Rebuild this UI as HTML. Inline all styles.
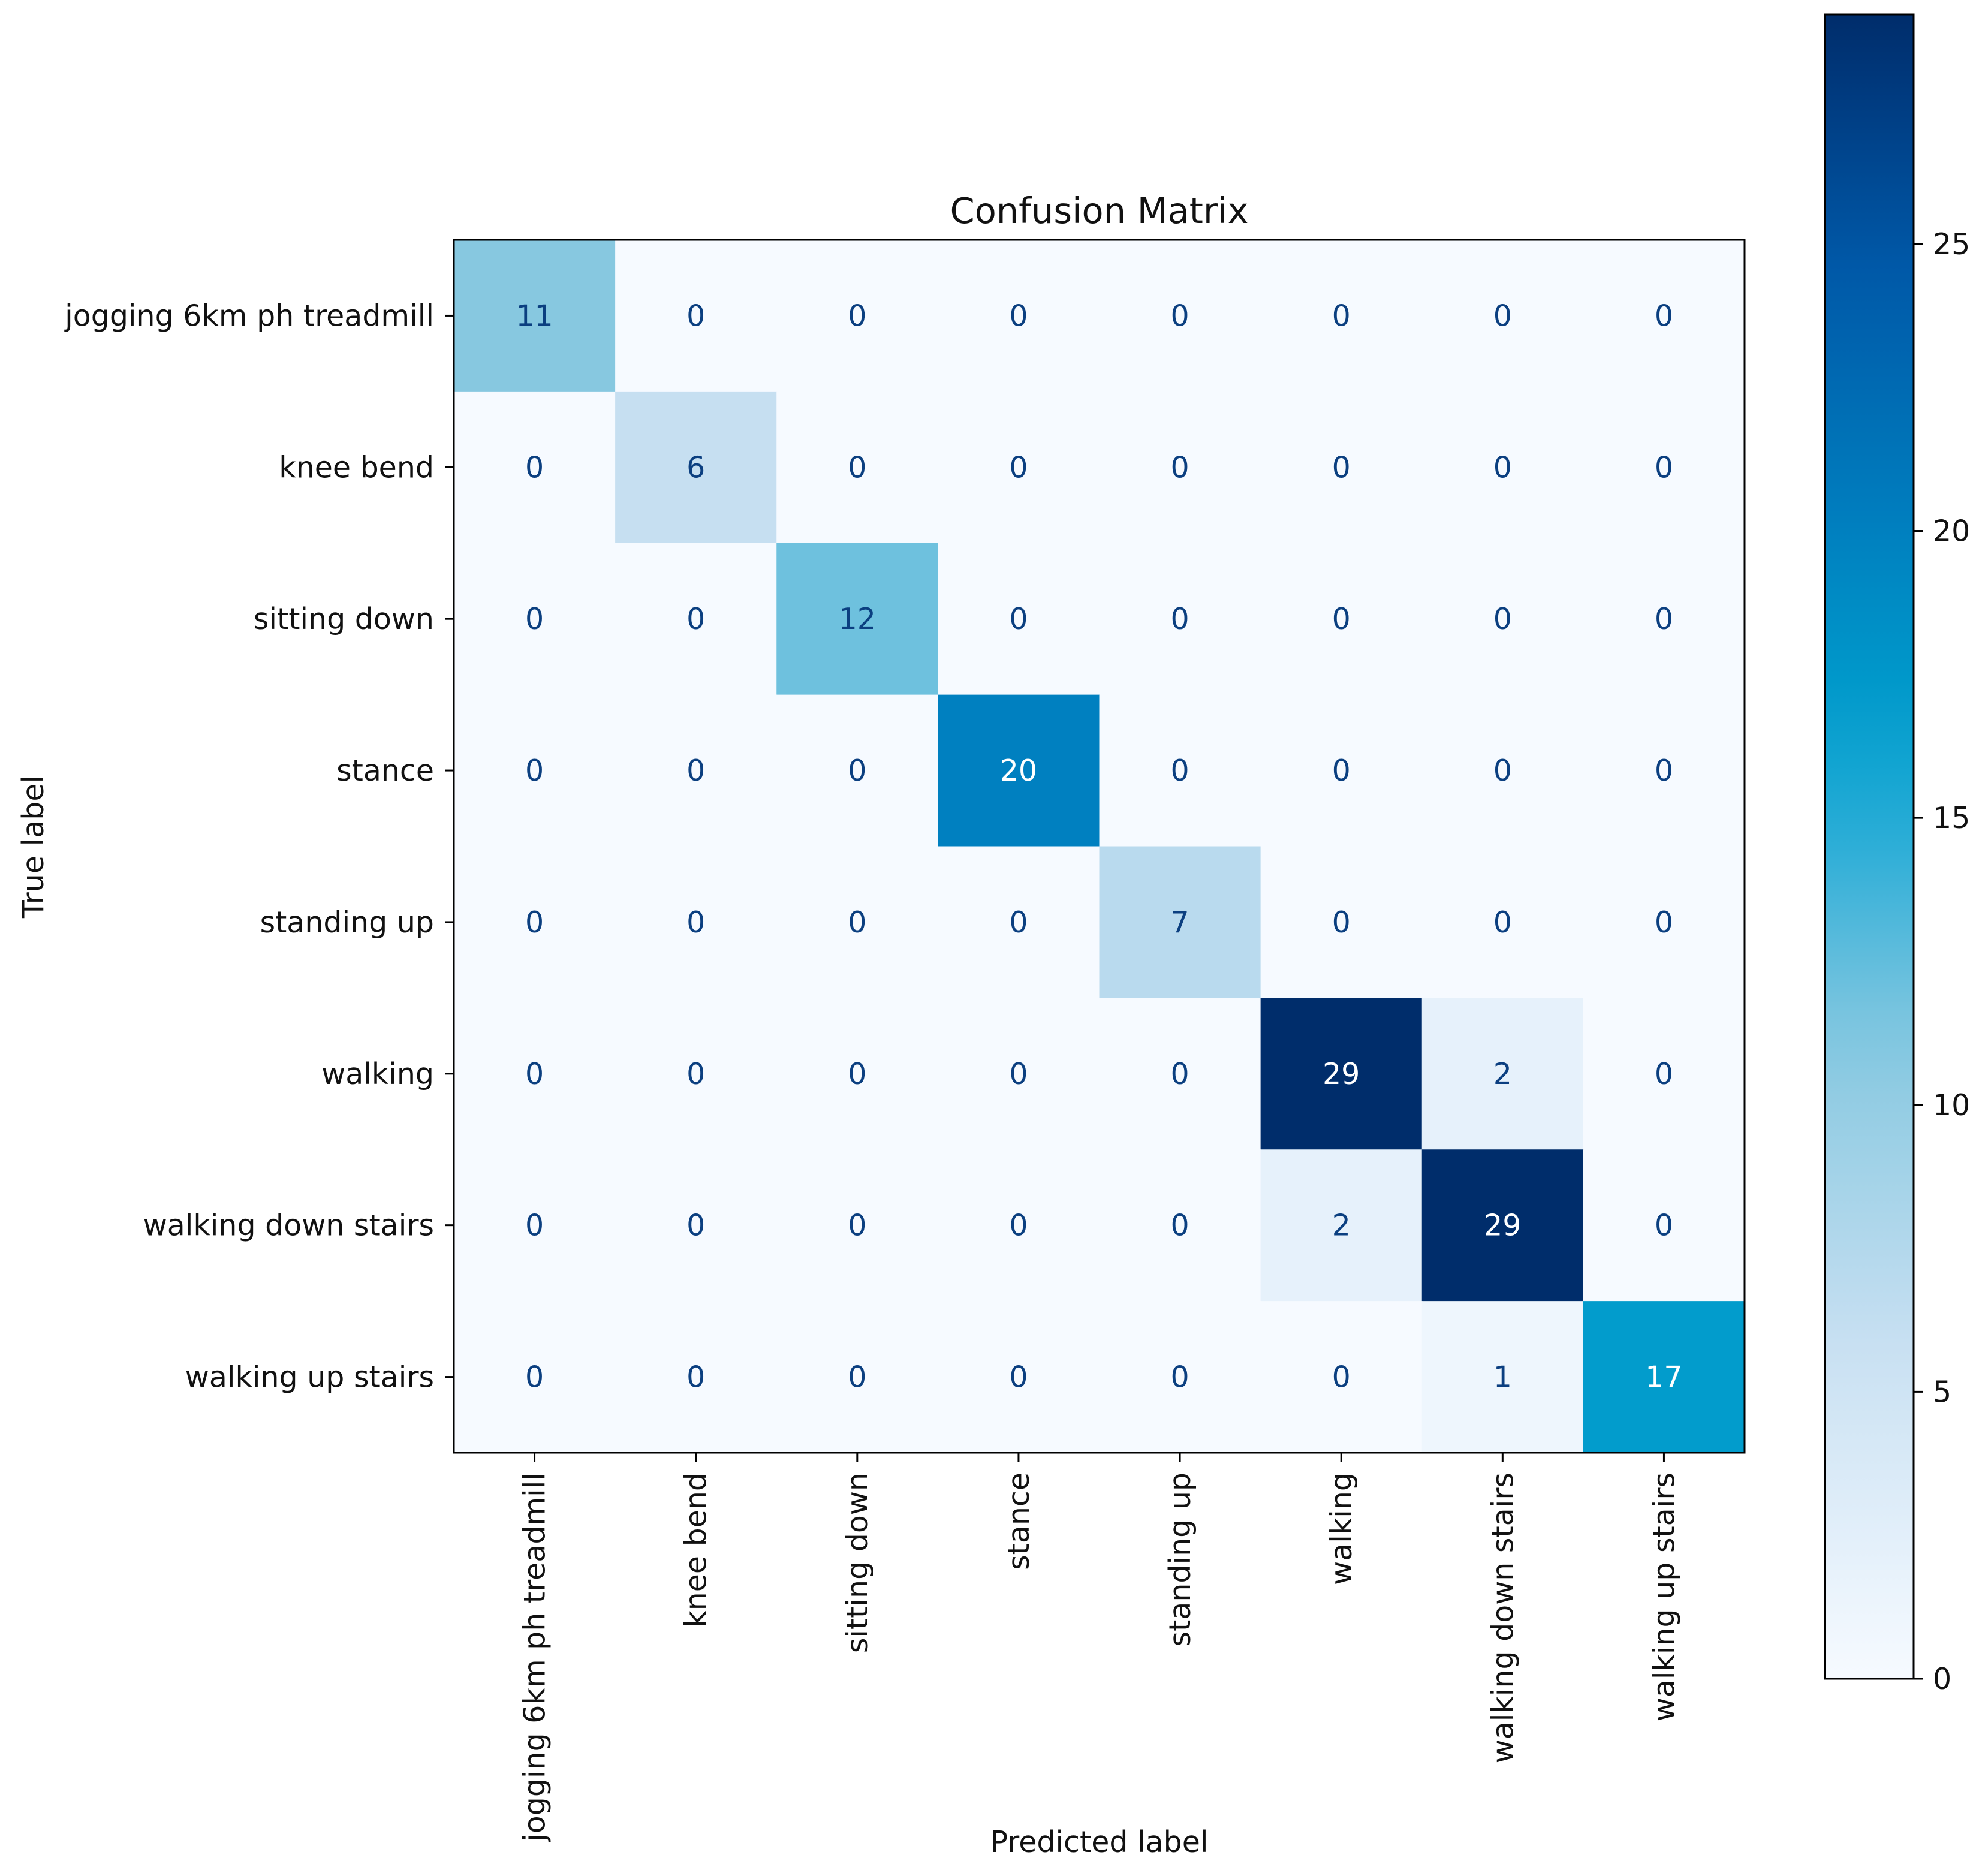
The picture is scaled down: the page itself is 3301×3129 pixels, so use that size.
<!DOCTYPE html>
<html><head><meta charset="utf-8"><style>
html,body{margin:0;padding:0;background:#fff;}
svg{display:block;font-family:"DejaVu Sans","Liberation Sans",sans-serif;}
</style></head><body>
<svg id="chart" width="3301" height="3129" viewBox="0 0 3301 3129" xmlns="http://www.w3.org/2000/svg">
<defs><linearGradient id="cbgrad" x1="0" y1="1" x2="0" y2="0"></linearGradient></defs>
<rect width="3301" height="3129" fill="#fff"/>
<g id="cells"></g>
<g id="axes"></g>
</svg>
<script>
const categories = ["jogging 6km ph treadmill","knee bend","sitting down","stance","standing up","walking","walking down stairs","walking up stairs"];
const row0 = [11,0,0,0,0,0,0,0];
const row1 = [0,6,0,0,0,0,0,0];
const row2 = [0,0,12,0,0,0,0,0];
const row3 = [0,0,0,20,0,0,0,0];
const row4 = [0,0,0,0,7,0,0,0];
const row5 = [0,0,0,0,0,29,2,0];
const row6 = [0,0,0,0,0,2,29,0];
const row7 = [0,0,0,0,0,0,1,17];
const matrix = [row0,row1,row2,row3,row4,row5,row6,row7];
const cbTicks = [0,5,10,15,20,25];
const vmin = 0, vmax = 29;

const NS = "http://www.w3.org/2000/svg";
const L=757, R=2910, T=400, B=2423;
const n = categories.length;
const cw=(R-L)/n, ch=(B-T)/n;
const CBL=3044, CBR=3192, CBT=24, CBB=2800;
const FS=49;
const stops=[[0,[246,250,255]],[0.2,[200,224,242]],[0.38,[135,200,224]],[0.52,[30,170,214]],[0.59,[0,155,203]],[0.69,[0,128,192]],[0.86,[0,85,165]],[1,[0,45,107]]];
function cmap(v){
  const t=Math.max(0,Math.min(1,(v-vmin)/(vmax-vmin)));
  for(let i=1;i<stops.length;i++){
    if(t<=stops[i][0]){
      const a=stops[i-1],b=stops[i],f=(t-a[0])/(b[0]-a[0]);
      return "rgb("+a[1].map((c,k)=>Math.round(c+(b[1][k]-c)*f)).join(",")+")";
    }
  }
  return "rgb(0,45,107)";
}
function xc(j){return L+cw*(j+0.5);}
function yc(i){return T+ch*(i+0.5);}
function cbY(v){return CBB-(v-vmin)/(vmax-vmin)*(CBB-CBT);}
function el(tag,attrs,parent,text){
  const e=document.createElementNS(NS,tag);
  for(const k in attrs) e.setAttribute(k,attrs[k]);
  if(text!==undefined) e.textContent=text;
  parent.appendChild(e); return e;
}
const cells=document.getElementById('cells');
const axes=document.getElementById('axes');
const thresh=(vmax+vmin)/2;
for(let i=0;i<n;i++){
  for(let j=0;j<n;j++){
    const v=matrix[i][j];
    const r=el('rect',{x:L+cw*j,y:T+ch*i,width:cw+0.6,height:ch+0.6,fill:cmap(v)},cells);
    
    
    const t=el('text',{x:xc(j),y:yc(i)+17,'text-anchor':'middle','font-size':FS,fill:v>thresh?'#fff':'#0b3f80'},cells,String(v));
    
    
  }
}
const fr=el('rect',{x:L,y:T,width:R-L,height:B-T,fill:'none',stroke:'#000','stroke-width':3},axes);


for(let i=0;i<n;i++){
  el('line',{x1:L-15,x2:L,y1:yc(i),y2:yc(i),stroke:'#000','stroke-width':3},axes);
  const t=el('text',{x:L-33,y:yc(i)+17,'text-anchor':'end','font-size':FS,fill:'#111'},axes,categories[i]);
  
  
}
for(let j=0;j<n;j++){
  el('line',{x1:xc(j),x2:xc(j),y1:B,y2:B+15,stroke:'#000','stroke-width':3},axes);
  const t=el('text',{x:0,y:0,'text-anchor':'end','font-size':FS,fill:'#111',transform:'translate('+(xc(j)+17)+','+(B+33)+') rotate(-90)'},axes,categories[j]);
  
  
}
const title=el('text',{x:(L+R)/2,y:372,'text-anchor':'middle','font-size':59,fill:'#111'},axes,'Confusion Matrix');


const xt=el('text',{x:(L+R)/2,y:3089,'text-anchor':'middle','font-size':FS,fill:'#111'},axes,'Predicted label');


const yt=el('text',{x:0,y:0,'text-anchor':'middle','font-size':FS,fill:'#111',transform:'translate(72,1412) rotate(-90)'},axes,'True label');


const grad=document.getElementById('cbgrad');
for(let k=0;k<=20;k++){
  const v=vmin+(vmax-vmin)*k/20;
  el('stop',{offset:(k/20),'stop-color':cmap(v)},grad);
}
const cb=el('rect',{x:CBL,y:CBT,width:CBR-CBL,height:CBB-CBT,fill:'url(#cbgrad)',stroke:'#000','stroke-width':3},axes);


for(const v of cbTicks){
  el('line',{x1:CBR,x2:CBR+15,y1:cbY(v),y2:cbY(v),stroke:'#000','stroke-width':3},axes);
  const t=el('text',{x:CBR+32,y:cbY(v)+17,'font-size':FS,fill:'#111'},axes,String(v));
  
  
}
</script>
</body></html>
